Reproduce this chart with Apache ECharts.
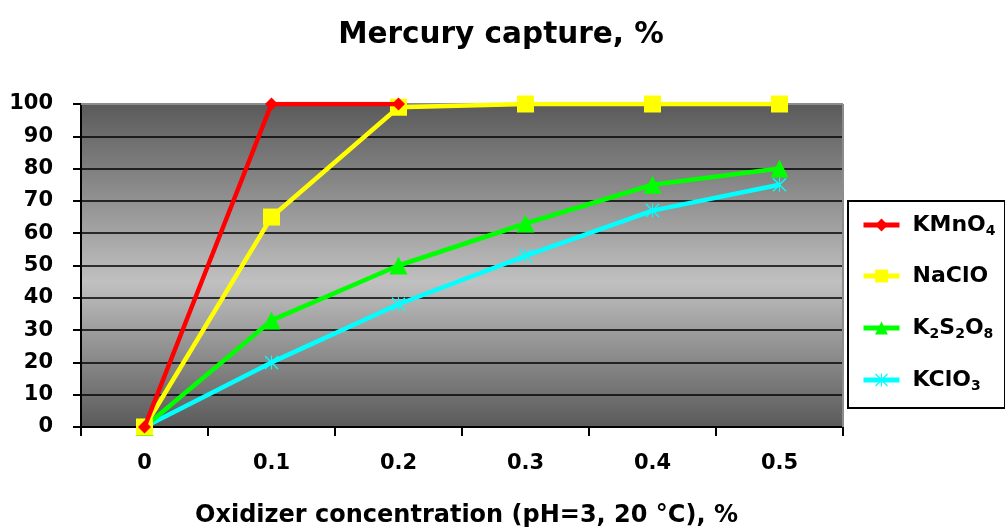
<!DOCTYPE html>
<html><head><meta charset="utf-8">
<script src="https://cdn.jsdelivr.net/npm/echarts@6/dist/echarts.min.js"></script>
<style>html,body{margin:0;padding:0;background:#fff}#c{width:1005px;height:531px}</style>
</head><body><div id="c"></div>
<script>
const categories = ['0', '0.1', '0.2', '0.3', '0.4', '0.5'];
const kmno4 = [0, 100, 100, null, null, null];
const naclo = [0, 65, 99, 100, 100, 100];
const k2s2o8 = [0, 33, 50, 63, 75, 80];
const kclo3 = [0, 20, 38, 53, 67, 75];
const yTicks = [0, 10, 20, 30, 40, 50, 60, 70, 80, 90, 100];
const seriesNames = ['KMnO4', 'NaClO', 'K2S2O8', 'KClO3'];
const legendLabels = ['{n|KMnO}{s|4}', '{n|NaClO}', '{n|K}{s|2}{n|S}{s|2}{n|O}{s|8}', '{n|KClO}{s|3}'];

const font = '"DejaVu Sans", Verdana, sans-serif';
const chart = echarts.init(document.getElementById('c'));
const starPath = 'path://M0,0.7 L0.7,0 L5,4.3 L9.3,0 L10,0.7 L5.7,5 L10,9.3 L9.3,10 L5,5.7 L0.7,10 L0,9.3 L4.3,5 Z M4.6,0 L5.4,0 L5.4,10 L4.6,10 Z';

const legendCenters = [227, 278, 330, 382];
const legends = seriesNames.map((name, i) => ({
  show: true, orient: 'vertical', left: 861, top: legendCenters[i] - 13, padding: 0,
  itemWidth: 36, itemHeight: 16, selectedMode: false,
  data: [name],
  formatter: () => legendLabels[i],
  lineStyle: {width: 5},
  textStyle: {
    padding: [0, 0, 0, 8],
    rich: {
      n: {fontFamily: font, fontWeight: 'bold', fontSize: 22, lineHeight: 26, color: '#000'},
      s: {fontFamily: font, fontWeight: 'bold', fontSize: 14, lineHeight: 8, verticalAlign: 'bottom', color: '#000'}
    }
  }
}));

chart.setOption({
  animation: false,
  title: {
    text: 'Mercury capture, %', left: 496, top: 15, textAlign: 'center',
    textStyle: {fontFamily: font, fontWeight: 'bold', fontSize: 29.5, color: '#000'}
  },
  grid: {
    left: 81, right: 162, top: 104, bottom: 104, show: true, borderWidth: 0,
    outerBoundsMode: 'none', containLabel: false,
    backgroundColor: {type: 'linear', x: 0, y: 0, x2: 0, y2: 1, colorStops: [
      {offset: 0, color: '#5a5a5a'}, {offset: 0.55, color: '#c0c0c0'}, {offset: 1, color: '#5a5a5a'}]}
  },
  legend: legends,
  xAxis: {
    type: 'category', data: categories, boundaryGap: true,
    name: 'Oxidizer concentration (pH=3, 20 °C), %', nameLocation: 'middle', nameGap: 77,
    nameTextStyle: {fontFamily: font, fontWeight: 'bold', fontSize: 24, color: '#000', padding: [0, 0, 0, 9]},
    axisLine: {lineStyle: {color: '#000', width: 2}},
    axisTick: {show: true, length: 9, lineStyle: {color: '#000', width: 2}},
    axisLabel: {fontFamily: font, fontWeight: 'bold', fontSize: 21, color: '#000', margin: 26},
    splitLine: {show: false}
  },
  yAxis: {
    type: 'value', min: 0, max: 100, interval: 10,
    axisLine: {show: true, lineStyle: {color: '#000', width: 2}},
    axisTick: {show: true, length: 8, lineStyle: {color: '#000', width: 2}},
    axisLabel: {fontFamily: font, fontWeight: 'bold', fontSize: 21, color: '#000', margin: 28,
      formatter: v => yTicks.includes(v) ? String(v) : ''},
    splitLine: {show: true, lineStyle: {color: '#000', width: 1.5}}
  },
  series: [
    {name: 'KClO3', type: 'line', data: kclo3, color: '#00ffff', symbol: starPath, symbolSize: 14,
      lineStyle: {width: 4.5, color: '#00ffff'}, itemStyle: {color: '#00ffff'}, z: 2},
    {name: 'K2S2O8', type: 'line', data: k2s2o8, color: '#00ff00', symbol: 'triangle', symbolSize: 18,
      lineStyle: {width: 4.5, color: '#00ff00'}, itemStyle: {color: '#00ff00'}, z: 3},
    {name: 'NaClO', type: 'line', data: naclo, color: '#ffff00', symbol: 'rect', symbolSize: 17,
      lineStyle: {width: 4.5, color: '#ffff00'}, itemStyle: {color: '#ffff00'}, z: 4},
    {name: 'KMnO4', type: 'line', data: kmno4, color: '#ff0000', symbol: 'diamond', symbolSize: 13,
      lineStyle: {width: 4.5, color: '#ff0000'}, itemStyle: {color: '#ff0000'}, z: 5}
  ],
  graphic: [
    {type: 'line', shape: {x1: 81, y1: 104, x2: 843, y2: 104}, style: {stroke: '#8c8c8c', lineWidth: 2}, z: 1},
    {type: 'line', shape: {x1: 843, y1: 104, x2: 843, y2: 427}, style: {stroke: '#8c8c8c', lineWidth: 2}, z: 1},
    {type: 'rect', shape: {x: 848, y: 201, width: 157, height: 207}, style: {fill: 'none', stroke: '#000', lineWidth: 2}, z: 1}
  ]
});
</script></body></html>
